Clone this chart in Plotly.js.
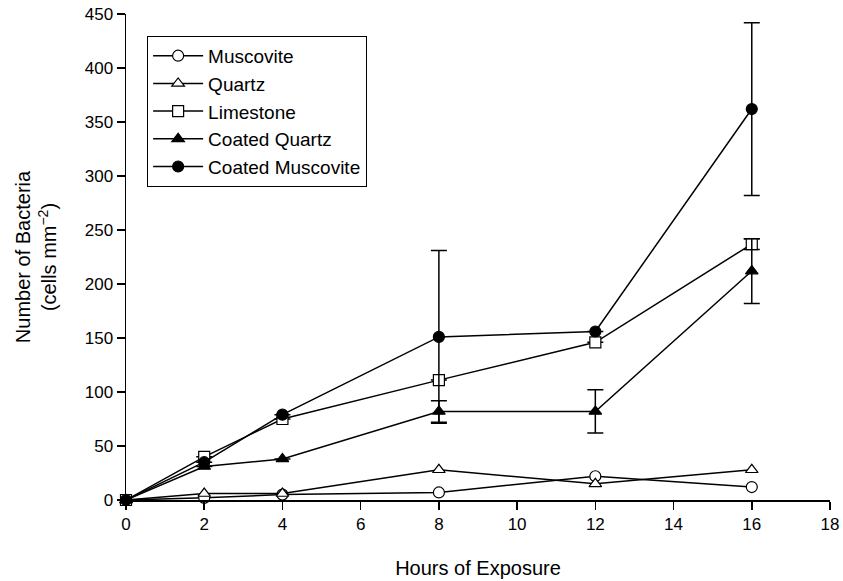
<!DOCTYPE html>
<html>
<head>
<meta charset="utf-8">
<script src="https://cdn.plot.ly/plotly-3.0.1.min.js"></script>
<style>html,body{margin:0;padding:0;background:#fff;}#chart{width:843px;height:581px;}</style>
</head>
<body>
<div id="chart"></div>
<script>
var hours = [0, 2, 4, 8, 12, 16];
var muscovite = [0, 2, 5, 7, 22, 12];
var quartz = [0, 6, 6, 28, 15, 28];
var limestone = [0, 40, 75, 111, 146, 237];
var coatedQuartz = [0, 31, 38, 82, 82, 212];
var coatedMuscovite = [0, 35, 79, 151, 156, 362];
var limestoneErr = [null, null, null, null, null, 5];
var coatedQuartzErr = [null, null, null, 10, 20, 30];
var coatedMuscoviteErr = [null, null, null, 80, null, 80];
var xTicks = [0, 2, 4, 6, 8, 10, 12, 14, 16, 18];
var yTicks = [0, 50, 100, 150, 200, 250, 300, 350, 400, 450];

function series(name, y, symbol, fill, err) {
  var t = {
    x: hours, y: y, name: name, type: 'scatter', mode: 'lines+markers',
    cliponaxis: false,
    line: {color: '#000', width: 1.5},
    marker: {symbol: symbol, size: 11, color: fill, line: {color: '#000', width: 1.2}}
  };
  if (err) {
    t.error_y = {type: 'data', array: err, visible: true, color: '#000', thickness: 1.5, width: 8};
  }
  return t;
}

var data = [
  series('Muscovite', muscovite, 'circle', '#fff'),
  series('Quartz', quartz, 'triangle-up', '#fff'),
  series('Limestone', limestone, 'square', '#fff', limestoneErr),
  series('Coated Quartz', coatedQuartz, 'triangle-up', '#000', coatedQuartzErr),
  series('Coated Muscovite', coatedMuscovite, 'circle', '#000', coatedMuscoviteErr)
];

var fam = 'Liberation Sans, Arial, sans-serif';
var layout = {
  width: 843, height: 581,
  margin: {l: 126, r: 13, t: 14, b: 81},
  paper_bgcolor: '#fff', plot_bgcolor: '#fff',
  font: {family: fam, color: '#000', size: 17},
  showlegend: true,
  legend: {
    x: 0.03, y: 0.955, xanchor: 'left', yanchor: 'top',
    bordercolor: '#000', borderwidth: 1, bgcolor: '#fff',
    font: {family: fam, size: 19, color: '#000'},
    itemwidth: 50,
    tracegroupgap: 0
  },
  xaxis: {
    range: [0, 18], tickvals: xTicks, ticktext: xTicks.map(String),
    showgrid: false, zeroline: false, showline: true, linecolor: '#000', linewidth: 1.5,
    ticks: 'outside', ticklen: 8, tickwidth: 1.5, tickcolor: '#000',
    tickfont: {family: fam, size: 17, color: '#000'},
    title: {text: 'Hours of Exposure', font: {family: fam, size: 20, color: '#000'}, standoff: 28}
  },
  yaxis: {
    range: [0, 450], tickvals: yTicks, ticktext: yTicks.map(String),
    showgrid: false, zeroline: false, showline: true, linecolor: '#000', linewidth: 1.5,
    ticks: 'outside', ticklen: 8, tickwidth: 1.5, tickcolor: '#000',
    tickfont: {family: fam, size: 17, color: '#000'},
    title: {text: 'Number of Bacteria<br>(cells mm<sup>\u22122</sup>)', font: {family: fam, size: 20, color: '#000'}, standoff: 22}
  }
};

Plotly.newPlot('chart', data, layout, {displayModeBar: false, staticPlot: true});
</script>
</body>
</html>
